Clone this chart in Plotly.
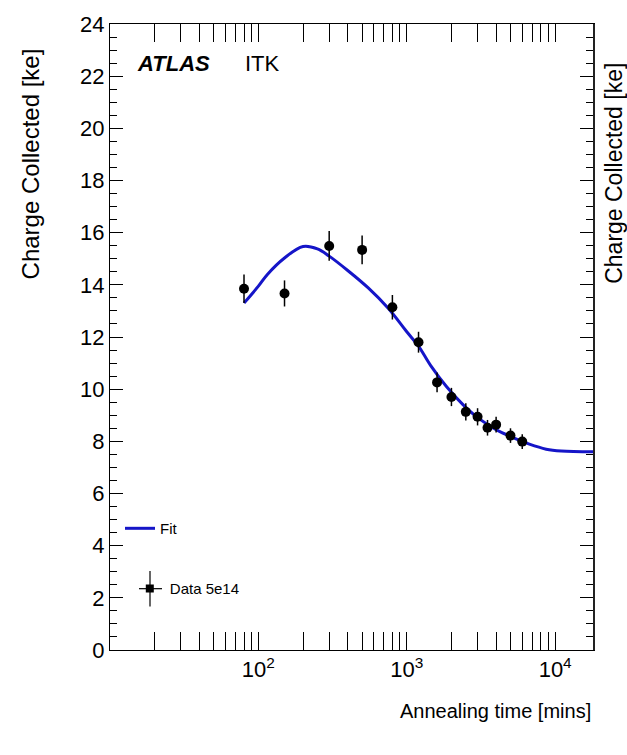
import plotly.graph_objects as go

# Data points (annealing time [mins], charge [ke], error)
t_data = [80, 150, 300, 500, 800, 1200, 1600, 2000, 2500, 3000, 3500, 4000, 5000, 6000]
q_data = [13.85, 13.67, 15.49, 15.34, 13.14, 11.8, 10.26, 9.7, 9.13, 8.94, 8.52, 8.64, 8.22, 7.99]
q_err = [0.55, 0.5, 0.57, 0.55, 0.47, 0.4, 0.38, 0.35, 0.33, 0.33, 0.3, 0.3, 0.28, 0.28]

# Fit curve
t_fit = [80, 100, 115, 150, 200, 250, 300, 400, 550, 750, 1000, 1200, 1450, 1850, 2400, 3100, 4000, 5200, 6700, 8700, 11000, 18000]
q_fit = [13.3, 13.95, 14.4, 15.03, 15.47, 15.38, 15.1, 14.55, 13.88, 13.1, 12.2, 11.65, 10.9, 10.1, 9.4, 8.85, 8.45, 8.14, 7.89, 7.7, 7.63, 7.6]

x_major = [100, 1000, 10000]
x_major_text = ["10<sup>2</sup>", "10<sup>3</sup>", "10<sup>4</sup>"]
x_minor = [m * d for d in (10, 100, 1000) for m in range(2, 10)]

FONT = "Liberation Sans, Arial, sans-serif"

fig = go.Figure()
# carrier trace for the right-hand axis (invisible)
fig.add_trace(go.Scatter(
    x=t_data, y=q_data, xaxis="x", yaxis="y2", mode="markers", marker=dict(opacity=0),
    showlegend=False, hoverinfo="skip"))
fig.add_trace(go.Scatter(
    x=t_fit, y=q_fit, mode="lines", name="Fit", line=dict(color="#1515c8", width=3, shape="spline"),
    legend="legend"))
fig.add_trace(go.Scatter(
    x=t_data, y=q_data, mode="markers", name="Data 5e14",
    marker=dict(color="black", size=10, symbol="circle"),
    error_y=dict(type="data", array=q_err, color="black", thickness=1.5, width=0),
    showlegend=False))
# legend-only entry for data (square marker like the reference legend)
fig.add_trace(go.Scatter(
    x=[None], y=[None], mode="markers", name="Data 5e14",
    marker=dict(color="black", size=8, symbol="square"), legend="legend2"))

yax_common = dict(range=[0, 24], tickmode="linear", tick0=0, dtick=2,
                  ticks="inside", ticklen=13, tickwidth=1, tickcolor="black",
                  minor=dict(dtick=0.5, ticks="inside", ticklen=7, tickcolor="black", tickwidth=1),
                  showgrid=False, zeroline=False, tickfont=dict(size=22))

fig.update_layout(
    width=627, height=755,
    margin=dict(l=110, r=34, t=17, b=105),
    plot_bgcolor="white", paper_bgcolor="white",
    font=dict(family=FONT, color="black", size=20),
    xaxis=dict(type="log", range=[1.0, 4.255],
               tickmode="array", tickvals=x_major, ticktext=x_major_text,
               ticks="inside", ticklen=18, tickwidth=1, tickcolor="black",
               minor=dict(tickmode="array", tickvals=x_minor, ticks="inside", ticklen=9, tickcolor="black", tickwidth=1),
               showline=True, linecolor="black", linewidth=1, mirror="allticks",
               showgrid=False, zeroline=False, tickfont=dict(size=22)),
    yaxis=dict(**yax_common, showline=True, linecolor="black", linewidth=1),
    yaxis2=dict(**yax_common, showline=True, linecolor="#222222", linewidth=2,
                overlaying="y", side="right", anchor="x", showticklabels=False),
    legend=dict(x=0.0207, y=0.194, xanchor="left", yanchor="middle", bgcolor="rgba(0,0,0,0)",
                font=dict(size=15), itemwidth=30),
    legend2=dict(x=0.041, y=0.098, xanchor="left", yanchor="middle", bgcolor="rgba(0,0,0,0)",
                 font=dict(size=15), itemwidth=30),
    showlegend=True,
)

# error-bar cross for the legend marker
fig.add_shape(type="line", xref="paper", yref="paper", x0=(150 - 110) / 483, x1=(150 - 110) / 483,
              y0=(650 - 570) / 633, y1=(650 - 606) / 633, line=dict(color="black", width=1.2))
fig.add_shape(type="line", xref="paper", yref="paper", x0=(139 - 110) / 483, x1=(162 - 110) / 483,
              y0=(650 - 588) / 633, y1=(650 - 588) / 633, line=dict(color="black", width=1.2))

fig.add_annotation(text="Charge Collected [ke]", textangle=-90, xref="paper", yref="paper",
                   x=-0.1656, y=0.7757, xanchor="center", yanchor="middle", showarrow=False,
                   font=dict(size=24))
fig.add_annotation(text="Charge Collected [ke]", textangle=-90, xref="paper", yref="paper",
                   x=1.0435, y=0.7607, xanchor="center", yanchor="middle", showarrow=False,
                   font=dict(size=23))
fig.add_annotation(text="Annealing time [mins]", xref="paper", yref="paper",
                   x=1.0, y=-0.098, xanchor="right", yanchor="middle", showarrow=False,
                   font=dict(size=20))
fig.add_annotation(text="<b><i>ATLAS</i></b>", xref="paper", yref="paper",
                   x=0.0518, y=0.937, xanchor="left", yanchor="middle", showarrow=False,
                   font=dict(size=22))
fig.add_annotation(text="ITK", xref="paper", yref="paper",
                   x=0.2754, y=0.937, xanchor="left", yanchor="middle", showarrow=False,
                   font=dict(size=22))

fig.write_html("out.html")
